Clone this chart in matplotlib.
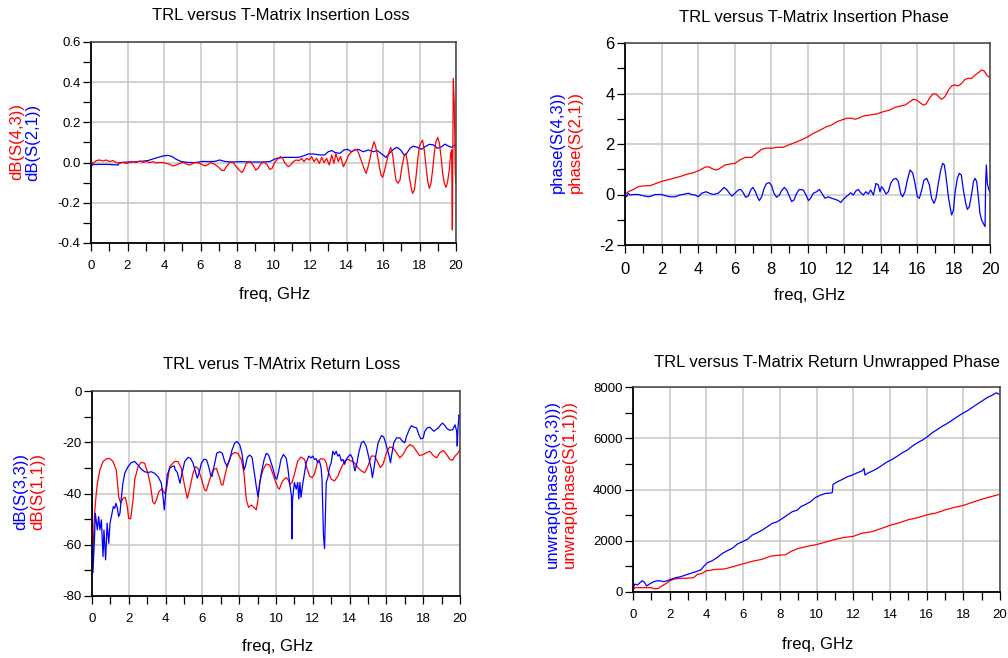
import matplotlib
matplotlib.use('Agg')
import matplotlib.pyplot as plt
from matplotlib.ticker import MultipleLocator, FormatStrFormatter

plt.rcParams['font.family'] = ['Liberation Sans', 'DejaVu Sans']
plt.rcParams['axes.unicode_minus'] = False

# ---- Insertion loss, dB ----
il_blue_f = [0, 0.11, 0.93, 1.48, 1.57, 2.03, 2.58, 3.12, 3.49, 3.95,
             4.22, 4.44, 4.68, 4.95, 5.32, 5.68, 6.14, 6.41, 6.78, 7.05,
             7.32, 7.69, 8.24, 8.79, 9.33, 9.79, 9.97, 10.17, 10.54, 10.9,
             11.36, 11.63, 11.91, 12.18, 12.55, 12.8, 13.0, 13.19, 13.37, 13.64,
             13.86, 14.05, 14.28, 14.47, 14.65, 14.92, 15.2, 15.47, 15.69, 15.93,
             16.16, 16.38, 16.57, 16.75, 16.97, 17.15, 17.3, 17.48, 17.66, 17.88,
             18.12, 18.3, 18.54, 18.76, 18.98, 19.21, 19.4, 19.58, 19.76, 19.94, 20.0]
il_blue = [-0.02, -0.009, -0.009, -0.012, 0.0, 0.003, 0.005, 0.01, 0.021, 0.033,
           0.036, 0.03, 0.016, 0.005, 0.001, 0.0, 0.006, 0.005, 0.006, 0.013,
           0.006, 0.003, 0.005, 0.003, 0.003, 0.005, 0.013, 0.021, 0.026, 0.026,
           0.026, 0.033, 0.043, 0.043, 0.038, 0.038, 0.054, 0.06, 0.05, 0.046,
           0.063, 0.066, 0.054, 0.063, 0.066, 0.054, 0.063, 0.054, 0.06, 0.043,
           0.026, 0.05, 0.066, 0.076, 0.063, 0.038, 0.046, 0.071, 0.082, 0.076,
           0.066, 0.079, 0.091, 0.088, 0.071, 0.079, 0.092, 0.082, 0.076, 0.088, 0.091]

il_red_f = [0, 0.1, 0.29, 0.47, 0.66, 0.84, 1.02, 1.2, 1.39, 1.57,
            1.75, 1.94, 2.12, 2.3, 2.48, 2.67, 2.85, 3.03, 3.21, 3.4,
            3.58, 3.76, 3.95, 4.13, 4.31, 4.49, 4.68, 4.86, 5.04, 5.22,
            5.41, 5.59, 5.77, 5.95, 6.14, 6.26, 6.41, 6.59, 6.78, 6.96,
            7.14, 7.29, 7.42, 7.6, 7.78, 7.96, 8.15, 8.27, 8.38, 8.51,
            8.69, 8.88, 9.02, 9.15, 9.3, 9.48, 9.66, 9.79, 9.92, 10.06,
            10.26, 10.39, 10.5, 10.63, 10.81, 10.94, 11.09, 11.23, 11.41, 11.54,
            11.67, 11.82, 11.96, 12.09, 12.22, 12.36, 12.51, 12.64, 12.77, 12.91,
            13.06, 13.19, 13.31, 13.42, 13.55, 13.68, 13.83, 13.97, 14.12, 14.28,
            14.47, 14.59, 14.7, 14.83, 14.96, 15.07, 15.16, 15.29, 15.4, 15.51,
            15.6, 15.69, 15.8, 15.89, 15.98, 16.07, 16.2, 16.33, 16.42, 16.53,
            16.62, 16.71, 16.82, 16.93, 17.04, 17.15, 17.26, 17.35, 17.44, 17.53,
            17.62, 17.72, 17.81, 17.9, 17.99, 18.08, 18.17, 18.26, 18.36, 18.45,
            18.54, 18.63, 18.72, 18.81, 18.9, 19.0, 19.09, 19.18, 19.27, 19.36,
            19.45, 19.54, 19.63, 19.71, 19.76, 19.8, 19.85, 19.91, 19.96, 20.0]
il_red = [0.005, -0.004, 0.01, 0.013, 0.008, 0.013, 0.005, 0.01, 0.0, -0.004,
          0.001, -0.004, 0.0, 0.005, 0.001, 0.008, 0.001, 0.006, 0.0, 0.005,
          -0.002, 0.001, 0.0, -0.004, -0.009, -0.017, -0.012, -0.004, 0.001, -0.007,
          -0.012, -0.004, 0.001, -0.004, -0.012, -0.017, -0.009, 0.0, -0.009, -0.02,
          -0.037, -0.04, -0.02, 0.001, 0.0, -0.02, -0.04, -0.05, -0.034, -0.004,
          0.005, -0.012, -0.037, -0.029, -0.007, 0.003, -0.012, -0.034, -0.029, 0.0,
          0.021, 0.03, 0.021, -0.004, -0.02, -0.012, 0.005, 0.013, 0.01, 0.021,
          0.005, 0.021, 0.013, 0.03, 0.005, 0.021, -0.004, 0.026, 0.0, 0.021,
          -0.012, 0.038, -0.004, 0.046, 0.005, 0.03, -0.02, 0.005, 0.038, 0.054,
          0.066, 0.063, 0.038, 0.005, -0.029, -0.054, -0.029, 0.021, 0.071, 0.104,
          0.079, 0.038, -0.02, -0.062, -0.073, -0.045, 0.005, 0.054, 0.076, 0.038,
          -0.029, -0.087, -0.103, -0.087, -0.02, 0.03, 0.043, -0.004, -0.07, -0.12,
          -0.153, -0.136, -0.07, 0.013, 0.079, 0.099, 0.112, 0.063, -0.02, -0.095,
          -0.128, -0.103, -0.037, 0.046, 0.104, 0.126, 0.096, 0.03, -0.054, -0.103,
          -0.123, -0.095, -0.037, 0.046, 0.063, -0.335, 0.419, 0.278, -0.054, -0.103]

# ---- Insertion phase ----
ip_red_f = [0, 0.18, 0.46, 0.73, 1.0, 1.37, 1.64, 1.92, 2.28, 2.65,
            3.01, 3.38, 3.74, 4.11, 4.38, 4.57, 4.84, 5.02, 5.21, 5.48,
            5.75, 6.03, 6.3, 6.58, 6.94, 7.21, 7.49, 7.76, 8.04, 8.31,
            8.68, 8.95, 9.22, 9.59, 9.95, 10.32, 10.69, 11.05, 11.32, 11.6,
            11.87, 12.15, 12.42, 12.6, 12.79, 13.06, 13.42, 13.79, 14.16, 14.52,
            14.79, 15.07, 15.34, 15.62, 15.8, 15.98, 16.16, 16.35, 16.49, 16.68,
            16.86, 17.04, 17.22, 17.35, 17.53, 17.72, 17.9, 18.08, 18.26, 18.45,
            18.63, 18.81, 19.0, 19.18, 19.36, 19.54, 19.67, 19.82, 19.91, 20.0]
ip_red = [0.0, 0.11, 0.2, 0.31, 0.34, 0.35, 0.42, 0.5, 0.57, 0.64,
          0.71, 0.8, 0.86, 0.97, 1.08, 1.1, 1.0, 0.97, 1.04, 1.17,
          1.21, 1.23, 1.37, 1.47, 1.47, 1.63, 1.79, 1.84, 1.83, 1.87,
          1.87, 1.96, 2.03, 2.14, 2.26, 2.42, 2.55, 2.69, 2.75, 2.88,
          2.95, 3.02, 3.02, 2.98, 3.02, 3.11, 3.15, 3.19, 3.28, 3.35,
          3.45, 3.5, 3.54, 3.68, 3.77, 3.74, 3.64, 3.54, 3.58, 3.81,
          3.98, 3.98, 3.85, 3.77, 3.87, 4.13, 4.3, 4.34, 4.3, 4.4,
          4.56, 4.6, 4.6, 4.73, 4.82, 4.93, 4.9, 4.73, 4.67, 4.64]

ip_blue_f = [0, 0.02, 0.09, 0.18, 0.27, 0.46, 0.73, 1.0, 1.28, 1.46,
             1.64, 2.0, 2.28, 2.47, 2.74, 3.01, 3.29, 3.47, 3.65, 3.84,
             4.02, 4.2, 4.44, 4.62, 4.84, 5.11, 5.3, 5.42, 5.57, 5.72,
             5.86, 6.03, 6.21, 6.34, 6.48, 6.61, 6.76, 6.89, 7.0, 7.12,
             7.25, 7.36, 7.49, 7.62, 7.76, 7.91, 8.04, 8.16, 8.31, 8.46,
             8.58, 8.73, 8.86, 9.0, 9.13, 9.26, 9.41, 9.55,
             9.77, 9.92, 10.05, 10.17, 10.32, 10.5, 10.65, 10.78, 10.96, 11.14,
             11.32, 11.51, 11.69, 11.82, 11.96, 12.11, 12.24, 12.36, 12.51, 12.66,
             12.79, 12.91, 13.06, 13.2, 13.33, 13.46, 13.61, 13.75, 13.88, 13.97,
             14.06, 14.19, 14.3, 14.43, 14.56, 14.7, 14.85, 14.98, 15.1, 15.21,
             15.34, 15.47, 15.62, 15.76, 15.89, 16.02, 16.13, 16.26, 16.38, 16.53,
             16.68, 16.8, 16.93, 17.04, 17.17, 17.3, 17.41, 17.5, 17.59, 17.72,
             17.81, 17.9, 18.0, 18.08, 18.21, 18.32, 18.43, 18.54, 18.67, 18.76,
             18.87, 19.0, 19.09, 19.18, 19.27, 19.36, 19.45, 19.54, 19.63, 19.73,
             19.76, 19.8, 19.85, 19.94, 20.0]
ip_blue = [0.5, 0.0, -0.09, 0.05, -0.02, 0.0, 0.0, -0.05, -0.09, -0.06,
           0.0, 0.0, -0.06, -0.09, -0.09, -0.02, 0.02, 0.05, 0.0, -0.02,
           -0.09, 0.05, 0.11, 0.05, 0.0, 0.05, 0.18, 0.28, 0.2, 0.05,
           -0.06, 0.05, 0.18, 0.2, 0.07, -0.11, -0.06, 0.18, 0.28, 0.15,
           -0.09, -0.24, -0.09, 0.24, 0.44, 0.47, 0.34, 0.05, -0.11, -0.02,
           0.15, 0.28, 0.18, -0.06, -0.28, -0.22, 0.05, 0.2,
           0.18, -0.02, -0.24, -0.15, 0.05, 0.11, 0.2, 0.05, -0.15, -0.09,
           -0.15, -0.19, -0.24, -0.32, -0.19, -0.09, -0.02, 0.07, -0.02, 0.15,
           0.2, 0.07, -0.02, 0.11, 0.02, 0.18, -0.02, 0.44, 0.38, 0.11,
           0.31, 0.18, 0.02, 0.11, 0.44, 0.6, 0.64, 0.51, 0.05, -0.09,
           0.11, 0.57, 0.97, 0.86, 0.44, -0.09, -0.15, 0.18, 0.57, 0.64,
           0.38, -0.15, -0.35, -0.15, 0.44, 0.97, 1.23, 1.17, 0.71, -0.09,
           -0.48, -0.81, -0.61, 0.05, 0.64, 0.84, 0.77, 0.18, -0.35, -0.59,
           -0.48, 0.05, 0.51, 0.64, 0.51, -0.09, -0.75, -1.01, -1.14, -1.27,
           0.44, 1.17, 0.44, 0.18, 0.11]

# ---- Return loss, dB ----
rl_red_f = [0, 0.05, 0.14, 0.2, 0.29, 0.43, 0.6, 0.78, 0.96, 1.14,
            1.32, 1.45, 1.56, 1.68, 1.81, 1.92, 1.99, 2.1, 2.23, 2.32,
            2.5, 2.68, 2.86, 3.04, 3.19, 3.3, 3.4, 3.5, 3.62, 3.8,
            3.95, 4.05, 4.22, 4.49, 4.67, 4.86, 5.04, 5.18, 5.3, 5.49,
            5.62, 5.76, 5.94, 6.12, 6.21, 6.39, 6.58, 6.76, 6.94, 7.03,
            7.12, 7.21, 7.39, 7.57, 7.75, 7.93, 8.12, 8.26, 8.39, 8.51,
            8.66, 8.8, 8.93, 9.02, 9.11, 9.29, 9.47, 9.66, 9.9, 10.1,
            10.18, 10.36, 10.55, 10.64, 10.76, 10.87, 11.0, 11.18, 11.36, 11.55,
            11.67, 11.82, 11.96, 12.09, 12.18, 12.27, 12.45, 12.64, 12.73, 12.82,
            13.0, 13.18, 13.36, 13.55, 13.73, 13.9, 14.1, 14.27, 14.45, 14.64,
            14.82, 15.0, 15.18, 15.36, 15.55, 15.67, 15.82, 16.0, 16.18, 16.36,
            16.55, 16.73, 16.9, 17.1, 17.27, 17.45, 17.64, 17.8, 18.0, 18.18,
            18.36, 18.55, 18.73, 18.9, 19.1, 19.27, 19.45, 19.6, 19.73, 19.9, 20.0]
rl_red = [-70, -62, -48, -42.5, -36, -30.8, -27.5, -26.5, -26.3, -27.5,
          -30.8, -41.2, -43.8, -41.9, -41.5, -45.1, -49.7, -49.9, -42.5, -34.7,
          -29.5, -27.8, -28.2, -32.1, -37.3, -43.2, -44.1, -42.5, -39.5, -38,
          -40, -38, -29.5, -27.5, -27.5, -30.2, -37.3, -41.9, -38.6, -32.1,
          -29.5, -30.2, -34, -38.6, -39, -34.7, -30.8, -30.2, -34, -36.6,
          -36.6, -33.4, -28.2, -25, -24, -24.3, -26.9, -32.1, -42.5, -45.4,
          -44.5, -45.4, -46.4, -42.5, -35.4, -30.8, -28.5, -28.9, -33.8, -37.7,
          -38.3, -35.1, -33.8, -34.4, -36.4, -35.7, -32.5, -27.3, -25.8, -26.7,
          -29.9, -33.2, -33.8, -32.5, -29.9, -27.3, -26.4, -26.7, -28, -31.2,
          -34.4, -35.1, -33.2, -29.9, -27.3, -26.7, -27.3, -28, -29.9, -31.2,
          -31.9, -29.3, -25.4, -25.4, -28, -29.9, -28.6, -24.1, -21.8, -22.2,
          -24.1, -26.1, -24.8, -22.2, -20.9, -21.5, -23.5, -25.2, -24.8, -24.1,
          -23.5, -25.2, -26.1, -24.1, -23.2, -24.8, -26.7, -27, -25.4, -24.1, -22.8]

rl_blue_f = [0, 0.05, 0.14, 0.18, 0.29, 0.36, 0.43, 0.51, 0.6, 0.65,
             0.74, 0.82, 0.91, 0.98, 1.09, 1.16, 1.23, 1.3, 1.38, 1.45,
             1.52, 1.59, 1.68, 1.78, 1.96, 2.14, 2.32, 2.5, 2.68, 2.86,
             3.04, 3.22, 3.4, 3.59, 3.77, 3.88, 3.93, 4.0, 4.09, 4.22,
             4.35, 4.46, 4.53, 4.64, 4.71, 4.78, 4.89, 5.04, 5.22, 5.36,
             5.49, 5.62, 5.72, 5.82, 5.94, 6.09, 6.23, 6.34, 6.45, 6.52,
             6.63, 6.78, 6.94, 7.08, 7.21, 7.34, 7.48, 7.61, 7.75, 7.88,
             8.03, 8.15, 8.26, 8.33, 8.44, 8.57, 8.7, 8.8, 8.93, 9.02,
             9.11, 9.2, 9.35, 9.47, 9.6,
             9.82, 9.96, 10.04, 10.15, 10.27, 10.4, 10.55, 10.64, 10.76, 10.84,
             10.87, 10.9, 11.0, 11.1, 11.18, 11.24, 11.3, 11.36, 11.45, 11.55,
             11.64, 11.78, 11.9, 12.0, 12.09, 12.18, 12.27, 12.36, 12.45, 12.5,
             12.58, 12.64, 12.69, 12.73, 12.82, 12.9, 13.0, 13.09, 13.18, 13.27,
             13.36, 13.45, 13.55, 13.64, 13.73, 13.82, 13.95, 14.05, 14.15, 14.22,
             14.29, 14.4, 14.5, 14.64, 14.76, 14.9, 15.05, 15.18, 15.24, 15.3,
             15.42, 15.55, 15.73, 15.85, 15.96, 16.05, 16.15, 16.22, 16.29, 16.4,
             16.55, 16.73, 16.87, 17.0, 17.09, 17.24, 17.36, 17.49, 17.64, 17.76,
             17.87, 18.0, 18.09, 18.22, 18.36, 18.49, 18.58, 18.69, 18.82, 18.95,
             19.05, 19.18, 19.31, 19.45, 19.6, 19.73, 19.82, 19.85, 19.89, 19.95,
             20.0]
rl_blue = [-37, -71, -56.8, -47.7, -54.2, -49, -54.2, -50.3, -64.6, -54.2,
           -65.9, -51.6, -59.4, -51.6, -47.7, -45.1, -45.8, -43.8, -45.8, -49,
           -47.7, -41.9, -36, -32.1, -29.5, -27.9, -27.5, -28.9, -30.5, -31.5,
           -31.8, -31.5, -32.1, -33.4, -36, -42.5, -46.4, -40.6, -32.8, -30.2,
           -29.5, -29.2, -30.8, -31.8, -34, -36, -32.1, -27.5, -25.9, -26.3,
           -28.2, -31.5, -34, -32.1, -28.2, -26.6, -26.9, -29.5, -32.8, -33.4,
           -29.5, -24.3, -23.7, -24.3, -27.5, -29.5, -26.9, -23, -20.4, -19.7,
           -21, -24.3, -30.8, -29.5, -25.9, -25, -25.9, -30.8, -37.3, -41.2,
           -36.6, -32.1, -26.9, -24.3, -25,
           -29.9, -33.8, -34.4, -31.2, -26.7, -24.8, -26.1, -29.9, -37, -40.9,
           -57.7, -42.2, -35.7, -38.3, -35.7, -42.2, -35.7, -41.5, -36.4, -31.9,
           -28, -25.4, -26.1, -25.4, -26.7, -26.4, -28, -27.3, -29.9, -34.4,
           -56.4, -61.5, -47.3, -35.7, -33.8, -29.9, -28, -23.5, -24.8, -23.5,
           -25.4, -24.8, -27.3, -26.7, -28.6, -26.7, -25.4, -24.8, -26.1, -28.6,
           -31.2, -28, -24.1, -20.2, -19.6, -21.5, -26.1, -30.6, -33.8, -31.2,
           -25.4, -20.2, -17.4, -17.9, -20.2, -22.8, -25.4, -28, -24.8, -20.2,
           -18.3, -18.3, -19.6, -20.2, -17.7, -15.1, -13.5, -14.1, -14.4, -17,
           -18.7, -18.3, -15.7, -14.4, -14.1, -15.1, -15.7, -15.1, -14.4, -13.2,
           -12.5, -13.5, -14.8, -15.3, -15.1, -13.2, -15.7, -21.5, -14.4, -9.3,
           -10.6]

# ---- Return unwrapped phase ----
up_blue_f = [0, 0.1, 0.24, 0.38, 0.51, 0.64, 0.74, 0.82, 0.96, 1.14,
             1.33, 1.51, 1.69, 1.87, 2.05, 2.33, 2.6, 2.87, 3.14, 3.42,
             3.69, 3.87, 4.05, 4.32, 4.6, 4.87, 5.14, 5.41, 5.69, 5.96,
             6.23, 6.5, 6.78, 7.05, 7.32, 7.59, 7.87, 8.14, 8.41, 8.68,
             8.96, 9.14, 9.41, 9.68, 9.95, 10.23, 10.5, 10.77, 10.86, 10.9,
             11.14, 11.41, 11.68, 11.95, 12.23, 12.5, 12.59, 12.64, 12.77, 13.04,
             13.32, 13.59, 13.86, 14.13, 14.41, 14.68, 14.95, 15.22, 15.5, 15.77,
             16.04, 16.31, 16.59, 16.86, 17.13, 17.4, 17.67, 17.95, 18.22, 18.49,
             18.76, 19.04, 19.31, 19.58, 19.8, 19.93]
up_blue = [143, 312, 273, 364, 442, 364, 234, 273, 338, 403,
           442, 429, 403, 442, 494, 559, 598, 663, 728, 793,
           858, 1014, 1144, 1222, 1352, 1508, 1612, 1703, 1872, 1963,
           2054, 2223, 2314, 2418, 2548, 2678, 2743, 2873, 3003, 3133,
           3198, 3328, 3419, 3523, 3692, 3783, 3848, 3860, 3880, 4200,
           4303, 4394, 4498, 4563, 4654, 4732, 4823, 4563, 4628, 4719,
           4823, 4953, 5083, 5174, 5304, 5434, 5538, 5694, 5824, 5928,
           6058, 6214, 6344, 6474, 6578, 6708, 6838, 6968, 7072, 7202,
           7332, 7462, 7592, 7683, 7774, 7722]

up_red_f = [0, 0.1, 0.5, 0.9, 1.0, 1.2, 1.4, 1.6, 1.8, 2.0,
            2.2, 2.5, 3.0, 3.3, 3.5, 3.8, 4.0, 4.5, 5.0, 5.5,
            6.0, 6.5, 7.0, 7.5, 8.0, 8.3, 8.6, 9.0, 9.5, 10.0,
            10.5, 11.0, 11.5, 12.0, 12.5, 13.0, 13.5, 14.0, 14.5, 15.0,
            15.5, 16.0, 16.5, 17.0, 17.5, 18.0, 18.5, 19.0, 19.5, 19.93]
up_red = [80, 170, 170, 170, 170, 120, 150, 250, 330, 430,
          500, 530, 540, 560, 680, 740, 830, 880, 900, 1000,
          1100, 1200, 1270, 1400, 1440, 1450, 1580, 1700, 1780, 1850,
          1950, 2050, 2130, 2170, 2300, 2350, 2470, 2600, 2700, 2820,
          2900, 3010, 3080, 3200, 3300, 3380, 3500, 3620, 3720, 3800]

RED = '#ff0000'
BLUE = '#0000ff'
W, H = 1008, 658

fig = plt.figure(figsize=(W / 100, H / 100), dpi=100)


def add_ax(l, t, r, b):
    # pixel box -> figure fraction
    return fig.add_axes([l / W, 1 - b / H, (r - l) / W, (b - t) / H])


def put(x, y, s, **kw):
    fig.text(x / W, 1 - y / H, s, ha='center', va='center', **kw)


def style(ax, ylim, ymaj, ymin, fmt, fs):
    ax.set_xlim(0, 20)
    ax.set_ylim(*ylim)
    ax.xaxis.set_major_locator(MultipleLocator(2))
    ax.xaxis.set_minor_locator(MultipleLocator(1))
    ax.yaxis.set_major_locator(MultipleLocator(ymaj))
    ax.yaxis.set_minor_locator(MultipleLocator(ymin))
    ax.yaxis.set_major_formatter(FormatStrFormatter(fmt))
    ax.grid(True, which='major', color='#c6c6c6', lw=1.1)
    ax.set_axisbelow(True)
    ax.tick_params(which='both', direction='out', length=5.5, width=0.9,
                   colors='black', labelsize=fs)
    ax.tick_params(axis='x', pad=6.5)
    ax.tick_params(axis='y', pad=2)
    for side in ['left', 'bottom']:
        ax.spines[side].set_linewidth(1.3)
        ax.spines[side].set_color('black')
    for side in ['top', 'right']:
        ax.spines[side].set_linewidth(1.1)
        ax.spines[side].set_color('#404040')


# top left
ax1 = add_ax(91, 42, 456, 243)
ax1.plot(il_blue_f, il_blue, color=BLUE, lw=0.9)
ax1.plot(il_red_f, il_red, color=RED, lw=0.9)
style(ax1, (-0.4, 0.6), 0.2, 0.1, '%.1f', 9.5)
put(281, 16, 'TRL versus T-Matrix Insertion Loss', fontsize=12)
put(17, 142, 'dB(S(4,3))', color=RED, rotation=90, fontsize=12)
put(33, 142, 'dB(S(2,1))', color=BLUE, rotation=90, fontsize=12)
put(275, 294, 'freq, GHz', fontsize=12)

# top right
ax2 = add_ax(625, 43, 990, 245)
ax2.plot(ip_red_f, ip_red, color=RED, lw=0.9)
ax2.plot(ip_blue_f, ip_blue, color=BLUE, lw=0.9)
style(ax2, (-2, 6), 2, 1, '%d', 12)
put(814, 17, 'TRL versus T-Matrix Insertion Phase', fontsize=12)
put(557, 142, 'phase(S(4,3))', color=BLUE, rotation=90, fontsize=12)
put(575, 142, 'phase(S(2,1))', color=RED, rotation=90, fontsize=12)
put(810, 296, 'freq, GHz', fontsize=12)

# bottom left
ax3 = add_ax(92, 391, 460, 596)
ax3.plot(rl_red_f, rl_red, color=RED, lw=0.9)
ax3.plot(rl_blue_f, rl_blue, color=BLUE, lw=0.9)
style(ax3, (-80, 0), 20, 10, '%d', 9.5)
put(282, 365, 'TRL verus T-MAtrix Return Loss', fontsize=12)
put(21, 492, 'dB(S(3,3))', color=BLUE, rotation=90, fontsize=12)
put(38, 492, 'dB(S(1,1))', color=RED, rotation=90, fontsize=12)
put(278, 647, 'freq, GHz', fontsize=12)

# bottom right
ax4 = add_ax(633, 387, 1000, 592)
ax4.plot(up_red_f, up_red, color=RED, lw=0.9)
ax4.plot(up_blue_f, up_blue, color=BLUE, lw=0.9)
style(ax4, (0, 8000), 2000, 1000, '%d', 9.5)
put(827, 363, 'TRL versus T-Matrix Return Unwrapped Phase', fontsize=12)
put(552, 484, 'unwrap(phase(S(3,3)))', color=BLUE, rotation=90, fontsize=12)
put(569, 484, 'unwrap(phase(S(1,1)))', color=RED, rotation=90, fontsize=12)
put(818, 644, 'freq, GHz', fontsize=12)

fig.savefig('out.png', dpi=100)
